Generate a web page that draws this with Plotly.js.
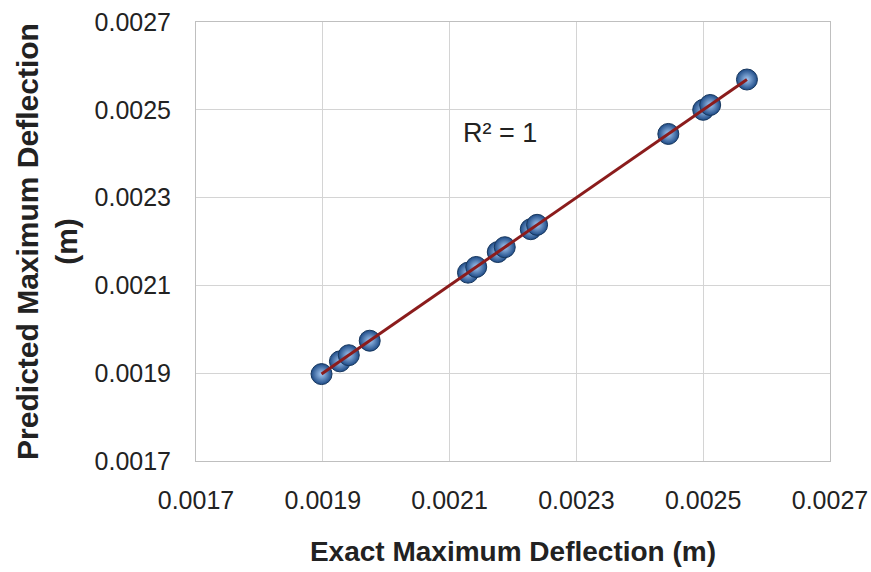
<!DOCTYPE html>
<html>
<head>
<meta charset="utf-8">
<script src="https://cdn.plot.ly/plotly-3.0.1.min.js"></script>
<style>html,body{margin:0;padding:0;background:#fff;}#chart{width:871px;height:572px;}</style>
</head>
<body>
<div id="chart"></div>
<script>
const exact = [0.001898, 0.001927, 0.001941, 0.001974, 0.002129, 0.002142, 0.002176, 0.002187, 0.002228, 0.002238, 0.002445, 0.002500, 0.002511, 0.002569];
const predicted = [0.001898, 0.001927, 0.001941, 0.001974, 0.002129, 0.002142, 0.002176, 0.002187, 0.002228, 0.002238, 0.002445, 0.002500, 0.002511, 0.002569];
const trendX = [0.001898, 0.002569];
const trendY = [0.001898, 0.002569];
const r2Label = "R² = 1";
const xTitle = "Exact Maximum Deflection (m)";
const yTitle = "Predicted Maximum Deflection<br>(m)";

const font = "'Liberation Sans', Arial, sans-serif";
const traces = [
  {
    x: exact, y: predicted, type: 'scatter', mode: 'markers',
    marker: {size: 21, color: '#1d4a86', gradient: {type: 'radial', color: '#a4c8f2'},
             line: {color: '#17375e', width: 1}},
    hoverinfo: 'x+y', showlegend: false
  },
  {
    x: trendX, y: trendY, type: 'scatter', mode: 'lines',
    line: {color: '#8b1c1c', width: 3}, showlegend: false
  }
];
const layout = {
  width: 871, height: 572,
  margin: {l: 196, r: 41, t: 22, b: 111},
  paper_bgcolor: '#fff', plot_bgcolor: '#fff',
  font: {family: font, color: '#222'},
  xaxis: {
    range: [0.0017, 0.0027], tick0: 0.0017, dtick: 0.0002, tickformat: '.4f',
    showgrid: true, gridcolor: '#d4d4d4', gridwidth: 1,
    showline: true, linecolor: '#bfbfbf', mirror: true, zeroline: false,
    ticks: '', ticklabelstandoff: 17,
    tickfont: {size: 25, family: font, color: '#222'},
    title: {text: '<b>' + xTitle + '</b>', font: {size: 28, family: font, color: '#222'}, standoff: 28}
  },
  yaxis: {
    range: [0.0017, 0.0027], tick0: 0.0017, dtick: 0.0002, tickformat: '.4f',
    showgrid: true, gridcolor: '#d4d4d4', gridwidth: 1,
    showline: true, linecolor: '#bfbfbf', mirror: true, zeroline: false,
    ticks: '', ticklabelstandoff: 19,
    tickfont: {size: 25, family: font, color: '#222'},
    title: {text: '<b>' + yTitle + '</b>', font: {size: 30, family: font, color: '#222'}, standoff: 8}
  },
  annotations: [{
    x: 0.00218, y: 0.002447, xref: 'x', yref: 'y', text: r2Label, showarrow: false,
    font: {size: 27, family: font, color: '#222'}
  }]
};
Plotly.newPlot('chart', traces, layout, {displayModeBar: false, staticPlot: true});
</script>
</body>
</html>
